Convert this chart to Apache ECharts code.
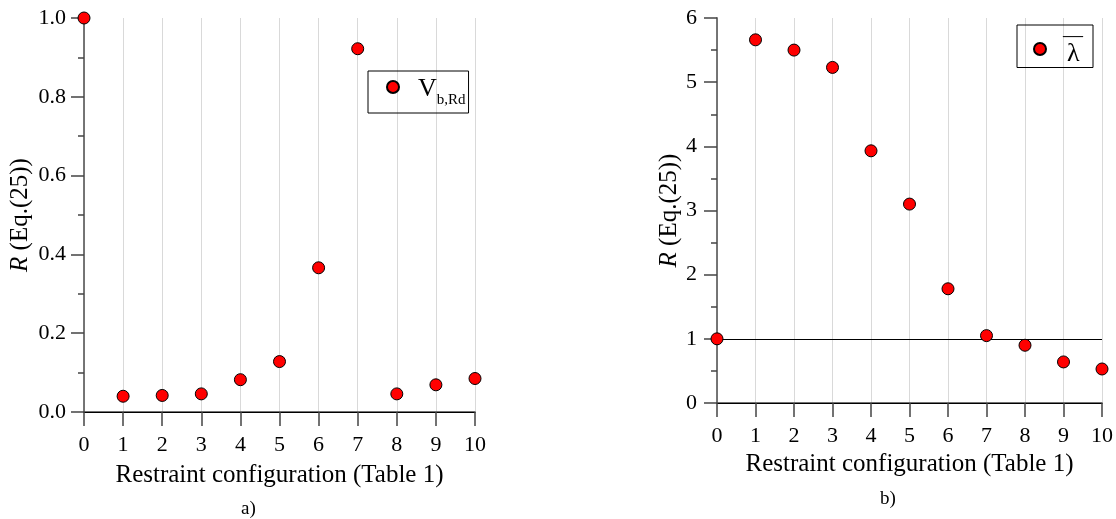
<!DOCTYPE html>
<html lang="en">
<head>
    <meta charset="UTF-8">
    <title>Restraint configuration</title>
    <script src="https://cdn.jsdelivr.net/npm/echarts@6/dist/echarts.min.js"></script>
    <style>
        body { margin: 0; background: #fff; }
        #chart { width: 1116px; height: 519px; }
    </style>
</head>
<body>
<div id="chart"></div>
<script type="text/javascript">
    // restraint configurations (x) and the two R series
    var configs = [0, 1, 2, 3, 4, 5, 6, 7, 8, 9, 10];
    var vbRd = [1.0, 0.040, 0.042, 0.046, 0.082, 0.128, 0.366, 0.922, 0.046, 0.069, 0.085];
    var lambdaBar = [1.0, 5.66, 5.50, 5.23, 3.93, 3.10, 1.78, 1.05, 0.90, 0.64, 0.53];
    var refLine = 1;

    var font = 'Liberation Serif';
    var axisGrey = '#444';

    function pairs(xs, ys) {
        return xs.map(function (x, i) { return [x, ys[i]]; });
    }

    function bottomAxis(gridIndex, gap) {
        return {
            gridIndex: gridIndex,
            type: 'value',
            min: 0, max: 10, interval: 1,
            name: 'Restraint configuration (Table 1)',
            nameLocation: 'middle',
            nameGap: gap,
            nameTextStyle: { fontFamily: font, fontSize: 25, color: '#000' },
            axisLine: { lineStyle: { color: axisGrey, width: 1.5 } },
            axisTick: { length: 14, lineStyle: { color: axisGrey, width: 1.5 } },
            axisLabel: { margin: 22, fontFamily: font, fontSize: 22, color: '#000' },
            splitLine: { show: true, lineStyle: { color: '#d9d9d9', width: 1 } }
        };
    }

    // top border only
    function topAxis(gridIndex) {
        return {
            gridIndex: gridIndex, type: 'value', position: 'top', min: 0, max: 10,
            axisLine: { show: true, lineStyle: { color: '#000' } },
            axisTick: { show: false }, axisLabel: { show: false }, splitLine: { show: false }
        };
    }

    // right border only
    function rightAxis(gridIndex, max) {
        return {
            gridIndex: gridIndex, type: 'value', position: 'right', min: 0, max: max,
            axisLine: { show: true, lineStyle: { color: '#777', width: 1.5 } },
            axisTick: { show: false }, axisLabel: { show: false }, splitLine: { show: false }
        };
    }

    function leftAxis(gridIndex, max, interval, gap, margin, fmt) {
        return {
            gridIndex: gridIndex,
            type: 'value',
            min: 0, max: max, interval: interval,
            name: '{i|R} (Eq.(25))',
            nameLocation: 'middle',
            nameGap: gap,
            nameRotate: 90,
            nameTextStyle: {
                fontFamily: font, fontSize: 25, color: '#000',
                rich: { i: { fontFamily: font, fontSize: 25, fontStyle: 'italic', color: '#000' } }
            },
            axisLine: { show: true, lineStyle: { color: axisGrey, width: 1.5 } },
            axisTick: { length: 13, lineStyle: { color: axisGrey, width: 1.5 } },
            minorTick: { show: true, splitNumber: 2, length: 6, lineStyle: { color: axisGrey, width: 1.5 } },
            axisLabel: { margin: margin, fontFamily: font, fontSize: 22, color: '#000', formatter: fmt },
            splitLine: { show: false }
        };
    }

    var markerStyle = { color: '#ff0000', borderColor: '#000', borderWidth: 1, opacity: 1 };

    var chart = echarts.init(document.getElementById('chart'));
    var option = {
        animation: false,
        backgroundColor: '#fff',
        title: [
            { text: 'a)', left: 236, top: 495, textStyle: { fontFamily: font, fontSize: 19, fontWeight: 'normal', color: '#000' } },
            { text: 'b)', left: 875, top: 485, textStyle: { fontFamily: font, fontSize: 19, fontWeight: 'normal', color: '#000' } }
        ],
        grid: [
            { left: 84, top: 18, width: 391, height: 394 },
            { left: 717, top: 18, width: 385, height: 385 }
        ],
        xAxis: [bottomAxis(0, 51), topAxis(0), bottomAxis(1, 48), topAxis(1)],
        yAxis: [
            leftAxis(0, 1, 0.2, 51, 18, function (v) { return v.toFixed(1); }),
            rightAxis(0, 1),
            leftAxis(1, 6, 1, 32, 20, function (v) { return String(v); }),
            rightAxis(1, 6)
        ],
        legend: [
            {
                data: ['Vb,Rd'],
                left: 368, top: 71,
                padding: [5, 3, 5, 18],
                borderColor: '#000', borderWidth: 1,
                itemWidth: 12, itemHeight: 12,
                icon: 'circle',
                formatter: function () { return '{v|V}{s|b,Rd}'; },
                textStyle: {
                    padding: [0, 0, 0, 14],
                    rich: {
                        v: { fontFamily: font, fontSize: 26, color: '#000', lineHeight: 30, verticalAlign: 'bottom' },
                        s: { fontFamily: font, fontSize: 15, color: '#000', lineHeight: 30, verticalAlign: 'bottom', padding: [0, 0, -6, 0] }
                    }
                }
            },
            {
                data: ['lambda'],
                left: 1017, top: 25,
                padding: [2, 10, 0, 16],
                borderColor: '#000', borderWidth: 1,
                itemWidth: 12, itemHeight: 12,
                icon: 'circle',
                // overbar drawn as a dash on a short line above the lambda
                formatter: function () { return '{b|\u2014}\n{l|\u03BB}'; },
                textStyle: {
                    padding: [0, 0, 0, 12],
                    rich: {
                        b: { fontFamily: font, fontSize: 20, color: '#000', lineHeight: 11 },
                        l: { fontFamily: font, fontSize: 26, color: '#000', lineHeight: 24, padding: [0, 0, 0, 4] }
                    }
                }
            }
        ],
        series: [
            {
                name: 'Vb,Rd',
                type: 'scatter',
                xAxisIndex: 0, yAxisIndex: 0,
                symbol: 'circle', symbolSize: 12,
                itemStyle: markerStyle,
                z: 5,
                data: pairs(configs, vbRd)
            },
            {
                name: 'lambda',
                type: 'scatter',
                xAxisIndex: 2, yAxisIndex: 2,
                symbol: 'circle', symbolSize: 12,
                itemStyle: markerStyle,
                z: 5,
                markLine: {
                    silent: true, symbol: 'none', z: 1,
                    label: { show: false },
                    lineStyle: { color: '#000', width: 1, type: 'solid' },
                    data: [{ yAxis: refLine }]
                },
                data: pairs(configs, lambdaBar)
            }
        ]
    };
    chart.setOption(option);
</script>
</body>
</html>
